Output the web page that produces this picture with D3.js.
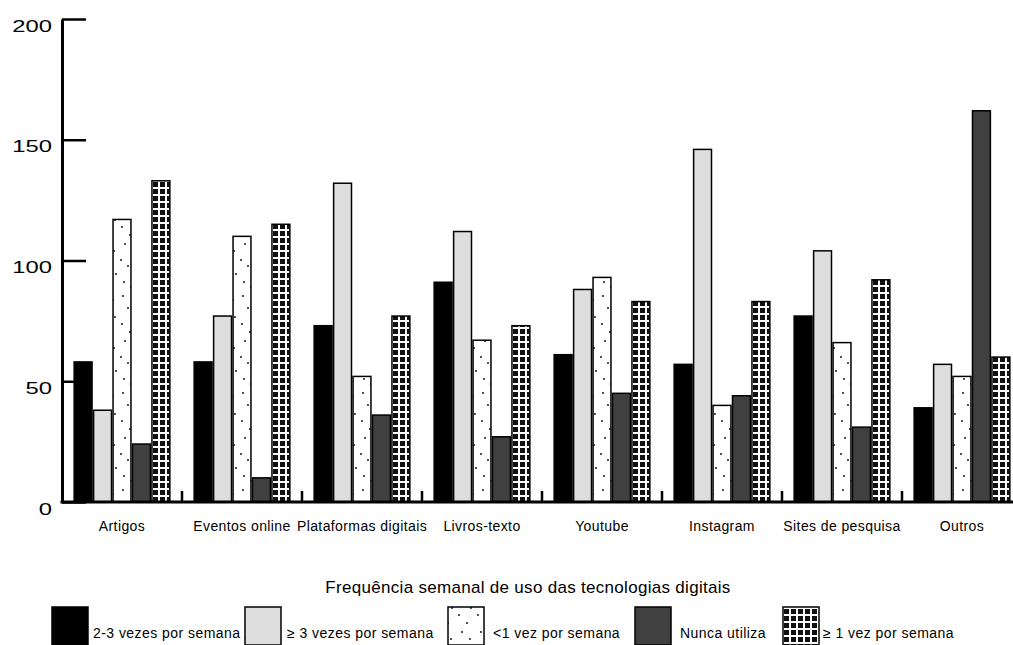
<!DOCTYPE html>
<html>
<head>
<meta charset="utf-8">
<script src="https://cdn.jsdelivr.net/npm/d3@7"></script>
<style>
  body { margin: 0; background: #fff; }
  svg { display: block; font-family: "Liberation Sans", Arial, sans-serif; }
</style>
</head>
<body>
<figure id="chart" style="margin:0"></figure>
<script>
// data
const categories = ["Artigos", "Eventos online", "Plataformas digitais", "Livros-texto",
  "Youtube", "Instagram", "Sites de pesquisa", "Outros"];
const seriesNames = ["2-3 vezes por semana", "≥ 3 vezes por semana", "<1 vez por semana",
  "Nunca utiliza", "≥ 1 vez por semana"];
const twoThree = [58, 58, 73, 91, 61, 57, 77, 39];
const threePlus = [38, 77, 132, 112, 88, 146, 104, 57];
const lessOne = [117, 110, 52, 67, 93, 40, 66, 52];
const never = [24, 10, 36, 27, 45, 44, 31, 162];
const onePlus = [133, 115, 77, 73, 83, 83, 92, 60];
const yTicks = [0, 50, 100, 150, 200];
const axisTitle = "Frequência semanal de uso das tecnologias digitais";

const seriesValues = [twoThree, threePlus, lessOne, never, onePlus];

class GroupedBars {
  constructor() {
    this.width = 1013;
    this.height = 645;
    this.left = 62;
    this.top = 19;
    this.bottom = 502;
    this.groupWidth = 120;
    this.fills = ["#000", "#dedede", "url(#dots)", "#404040", "url(#grid)"];
    // legend layout (swatch left edge, gap to label)
    this.legendX = [52, 245, 448, 635, 783];
    this.legendGap = [41, 42, 45, 45, 40];
  }

  init() {
    this.svg = d3.select("figure#chart").append("svg")
      .attr("width", this.width)
      .attr("height", this.height);
    this.addPatterns();
  }

  addPatterns() {
    const defs = this.svg.append("defs");

    // sparse dots on white
    const dots = defs.append("pattern")
      .attr("id", "dots")
      .attr("patternUnits", "userSpaceOnUse")
      .attr("width", 19)
      .attr("height", 97);
    dots.append("rect").attr("width", 19).attr("height", 97).attr("fill", "#fff");
    const dotPos = [[4, 5], [13, 9], [9, 17], [15, 26], [3, 33], [11, 41], [6, 50],
      [14, 57], [2, 66], [9, 72], [16, 80], [5, 88], [12, 93]];
    dots.selectAll("circle")
      .data(dotPos).enter()
      .append("circle")
      .attr("cx", (d) => d[0])
      .attr("cy", (d) => d[1])
      .attr("r", 0.9)
      .attr("fill", "#000");

    // black squares with white grid lines
    const grid = defs.append("pattern")
      .attr("id", "grid")
      .attr("patternUnits", "userSpaceOnUse")
      .attr("width", 7)
      .attr("height", 7);
    grid.append("rect").attr("width", 7).attr("height", 7).attr("fill", "#fff");
    grid.append("rect").attr("width", 5).attr("height", 5).attr("fill", "#111");
  }

  draw() {
    const svg = this.svg;

    const x = d3.scaleBand()
      .domain(categories)
      .range([this.left, this.left + categories.length * this.groupWidth])
      .padding(0);

    const xs = d3.scaleBand()
      .domain(d3.range(seriesNames.length))
      .range([0, this.groupWidth])
      .paddingInner(0.08)
      .paddingOuter(0.625);

    const y = d3.scaleLinear()
      .domain([0, 200])
      .range([this.bottom, this.top]);

    // bars
    const groups = svg.selectAll("g.group")
      .data(categories).enter()
      .append("g")
      .attr("class", "group")
      .attr("transform", (d) => "translate(" + x(d) + ",0)");

    groups.selectAll("rect")
      .data((d, i) => seriesValues.map((vals, s) => ({ s: s, v: vals[i] })))
      .enter()
      .append("rect")
      .attr("x", (d) => xs(d.s))
      .attr("y", (d) => y(d.v))
      .attr("width", xs.bandwidth())
      .attr("height", (d) => this.bottom - y(d.v))
      .attr("fill", (d) => this.fills[d.s])
      .attr("stroke", "#000")
      .attr("stroke-width", 1.5);

    // y axis, ticks pointing inside
    const yAxis = svg.append("g")
      .attr("transform", "translate(" + this.left + ",0)")
      .call(d3.axisLeft(y).tickValues(yTicks).tickSize(-24).tickSizeOuter(0).tickPadding(0));
    yAxis.select(".domain").attr("stroke-width", 3);
    yAxis.selectAll(".tick line").attr("stroke-width", 2.5);
    yAxis.selectAll(".tick text")
      .attr("x", -10 / 1.4)
      .attr("dy", "12px")
      .attr("transform", "scale(1.4,1)")
      .attr("fill", "#000")
      .style("font-size", "17px")
      .style("font-family", "'Liberation Sans', Arial, sans-serif");

    // x axis: labels at group centres, short ticks between groups
    const xAxis = svg.append("g")
      .attr("transform", "translate(0," + this.bottom + ")")
      .call(d3.axisBottom(x).tickSize(0).tickPadding(19));
    xAxis.select(".domain").remove();
    xAxis.selectAll(".tick text")
      .attr("fill", "#000")
      .style("font-size", "14px")
      .style("letter-spacing", "0.4px")
      .style("font-family", "'Liberation Sans', Arial, sans-serif");

    svg.append("g")
      .selectAll("line")
      .data(categories.slice(1)).enter()
      .append("line")
      .attr("x1", (d) => x(d))
      .attr("x2", (d) => x(d))
      .attr("y1", this.bottom)
      .attr("y2", this.bottom - 11)
      .attr("stroke", "#000")
      .attr("stroke-width", 2.5);

    svg.append("line")
      .attr("x1", this.left - 1.5)
      .attr("x2", x.range()[1])
      .attr("y1", this.bottom)
      .attr("y2", this.bottom)
      .attr("stroke", "#000")
      .attr("stroke-width", 3);

    // axis title
    svg.append("text")
      .attr("x", 528)
      .attr("y", 593)
      .attr("text-anchor", "middle")
      .style("font-size", "17px")
      .style("letter-spacing", "0.3px")
      .text(axisTitle);

    this.drawLegend();
  }

  drawLegend() {
    const legend = this.svg.append("g").attr("class", "legend");
    const top = 607;
    seriesNames.forEach((name, i) => {
      const lx = this.legendX[i];
      legend.append("rect")
        .attr("x", lx)
        .attr("y", top)
        .attr("width", 36)
        .attr("height", 38)
        .attr("fill", this.fills[i])
        .attr("stroke", "#000")
        .attr("stroke-width", 1.5);
      legend.append("text")
        .attr("x", lx + this.legendGap[i])
        .attr("y", 638)
        .style("font-size", "14px")
        .style("letter-spacing", "0.45px")
        .text(name);
    });
  }
}

const chart = new GroupedBars();
chart.init();
chart.draw();
</script>
</body>
</html>
